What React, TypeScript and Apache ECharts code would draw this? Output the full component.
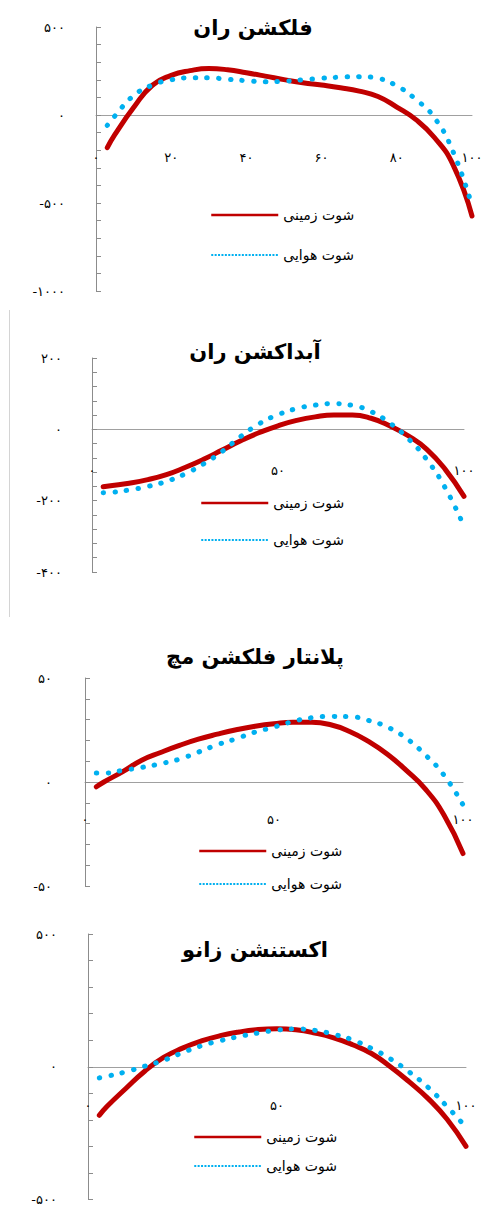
import React, { useEffect, useRef } from "react";
import * as echarts from "echarts";

// Shared x positions (% of cycle)
const xs = [3, 5, 10, 15, 20, 25, 30, 35, 40, 45, 50, 55, 60, 65, 70, 75, 80, 85, 90, 95, 100];

const seriesGroundName = "شوت زمینی";
const seriesAirName = "شوت هوایی";

const titles = ["فلکشن ران", "آبداکشن ران", "پلانتار فلکشن مچ", "اکستنشن زانو"];

// Hip flexion
const hipFlexGround = [-186, -112, 42, 169, 225, 252, 264, 257, 240, 221, 201, 183, 170, 155, 136, 105, 45, -25, -128, -285, -574];
const hipFlexAir = [-59, -6, 110, 170, 200, 211, 211, 203, 195, 189, 192, 200, 209, 215, 218, 208, 165, 90, -15, -210, -517];

// Hip abduction
const hipAbdGround = [-161, -158, -151, -141, -127, -107, -84, -58, -32, -9, 10, 25, 35, 40, 40, 31, 10, -18, -56, -113, -188];
const hipAbdAir = [-178, -177, -170, -160, -146, -125, -97, -62, -20, 16, 41, 58, 68, 72, 67, 50, 18, -26, -85, -165, -272];

// Ankle plantar flexion
const anklePfGround = [-2.3, 0, 5, 10.5, 14.2, 17.6, 20.6, 23, 25.1, 26.8, 28, 28.7, 28.7, 27.5, 24.3, 19.5, 13.3, 5.6, -3.3, -16, -34.4];
const anklePfAir = [4.3, 4.3, 5.6, 7.0, 8.8, 11, 14.4, 17.9, 20.8, 24, 26.4, 29.1, 30.9, 31.5, 31.4, 29.6, 26.4, 21, 13.1, 3.2, -11];

// Knee extension
const kneeExtGround = [-183, -150, -82, -17, 35, 70, 97, 117, 131, 140, 143, 139, 127, 109, 83, 50, 0, -57, -120, -198, -300];
const kneeExtAir = [-42, -36, -19, 2, 24, 53, 79, 98, 114, 127, 138, 142, 137, 122, 101, 69, 30, -20, -78, -150, -228];

// Axis settings
const yMins = [-1000, -400, -50, -500];
const yMaxs = [500, 200, 50, 500];
const yIntervals = [100, 40, 10, 100];
const yLabelSteps = [500, 200, 50, 500];
const xIntervals = [20, 50, 50, 50];

const groundSets = [hipFlexGround, hipAbdGround, anklePfGround, kneeExtGround];
const airSets = [hipFlexAir, hipAbdAir, anklePfAir, kneeExtAir];

const FONT = '"DejaVu Sans", "Noto Sans", sans-serif';
const faDigits = "۰۱۲۳۴۵۶۷۸۹";
const toFa = (v: number) =>
  String(v).replace(/[0-9]/g, (d) => faDigits[Number(d)]);

// layout of each panel (pixels)
const grids = [
  { left: 96, top: 27, width: 376, height: 264 },
  { left: 92, top: 358, width: 372, height: 214 },
  { left: 85, top: 678, width: 378, height: 208 },
  { left: 88, top: 934, width: 378, height: 270 },
];
const yLabelMargins = [31, 30, 33, 31];
const xLabelMargins = [-140, -108, -73, -101];
const titlePos = [
  [253, 28],
  [255, 352],
  [255, 657],
  [255, 950],
];
const legendPos = [
  { left: 210, top: 208, gap: 26 },
  { left: 200, top: 496, gap: 23 },
  { left: 198, top: 844, gap: 19 },
  { left: 193, top: 1130, gap: 15 },
];

export default function App() {
  const ref = useRef<HTMLDivElement>(null);
  useEffect(() => {
    if (!ref.current) return;
    const chart = echarts.init(ref.current, undefined, { renderer: "svg" });
    const axisGray = "#8c8c8c";
    const hiddenSymbol = { color: "rgba(0,0,0,0)", borderWidth: 0, opacity: 0 };
    const option: any = {
      animation: false,
      backgroundColor: "#ffffff",
      textStyle: { fontFamily: FONT },
      grid: grids.map((g) => ({ ...g, containLabel: false })),
      xAxis: grids.map((_, i) => ({
        gridIndex: i,
        type: "value",
        min: 0,
        max: 100,
        interval: xIntervals[i],
        axisLine: { show: true, onZero: true, lineStyle: { color: "#a0a0a0", width: 1 } },
        axisTick: { show: false },
        splitLine: { show: false },
        axisLabel: {
          margin: xLabelMargins[i],
          color: "#000",
          fontSize: 13,
          fontFamily: FONT,
          formatter: (v: number) => toFa(v),
        },
      })),
      yAxis: grids.map((_, i) => ({
        gridIndex: i,
        type: "value",
        min: yMins[i],
        max: yMaxs[i],
        interval: yIntervals[i],
        axisLine: { show: true, onZero: false, lineStyle: { color: axisGray, width: 1 } },
        axisTick: { show: true, inside: true, length: 5, lineStyle: { color: axisGray } },
        splitLine: { show: false },
        axisLabel: {
          margin: yLabelMargins[i],
          color: "#000",
          fontSize: 13,
          fontFamily: FONT,
          padding: [0, 0, 8, 0],
          formatter: (v: number) => (v % yLabelSteps[i] === 0 ? toFa(v) : ""),
        },
      })),
      legend: legendPos.map((p) => ({
        left: p.left,
        top: p.top,
        orient: "vertical",
        itemWidth: 67,
        itemHeight: 14,
        itemGap: p.gap,
        selectedMode: false,
        padding: 0,
        textStyle: { fontSize: 14, color: "#000", fontFamily: FONT },
        data: [
          {
            name: seriesGroundName,
            itemStyle: hiddenSymbol,
            lineStyle: { width: 2.5, cap: "butt", type: "solid" },
          },
          {
            name: seriesAirName,
            itemStyle: hiddenSymbol,
            lineStyle: { width: 2, cap: "butt", type: [2, 1.4] },
          },
        ],
      })),
      graphic: [
        {
          type: "line",
          shape: { x1: 9.5, y1: 310, x2: 9.5, y2: 617 },
          style: { stroke: "#d4d4d4", lineWidth: 1 },
          silent: true,
        },
        ...titles.map((t, i) => ({
          type: "text",
          x: titlePos[i][0],
          y: titlePos[i][1],
          style: {
            text: t,
            fontSize: 21,
            fontWeight: "bold",
            fontFamily: FONT,
            fill: "#000",
            align: "center",
            verticalAlign: "middle",
          },
        })),
      ],
      series: grids.flatMap((_, i) => [
        {
          name: seriesGroundName,
          type: "line",
          xAxisIndex: i,
          yAxisIndex: i,
          smooth: 0.5,
          symbol: "none",
          data: xs.map((x, k) => [x, groundSets[i][k]]),
          lineStyle: { color: "#C00000", width: 5, cap: "round", join: "round" },
          itemStyle: { color: "#C00000" },
          z: 3,
        },
        {
          name: seriesAirName,
          type: "line",
          xAxisIndex: i,
          yAxisIndex: i,
          smooth: 0.5,
          symbol: "none",
          data: xs.map((x, k) => [x, airSets[i][k]]),
          lineStyle: { color: "#00B0F0", width: 5, type: [0.5, 11.2], cap: "round" },
          itemStyle: { color: "#00B0F0" },
          z: 4,
        },
      ]),
    };
    chart.setOption(option);
    return () => chart.dispose();
  }, []);
  return (
    <div
      ref={ref}
      style={{ position: "absolute", left: 0, top: 0, width: 489, height: 1206 }}
    />
  );
}
